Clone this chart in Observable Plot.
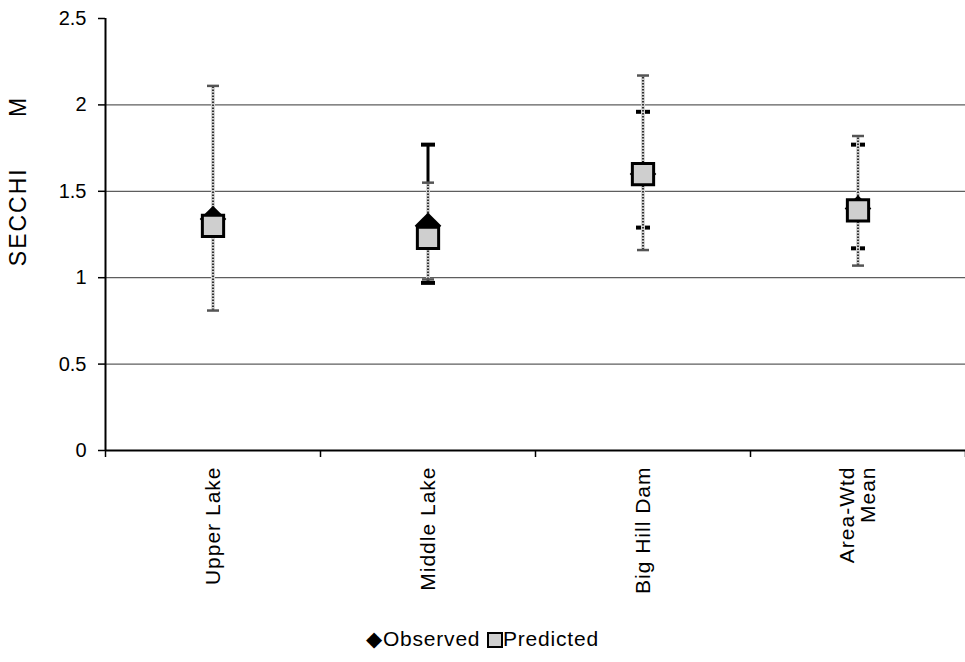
<!DOCTYPE html>
<html>
<head>
<meta charset="utf-8">
<script src="https://cdn.jsdelivr.net/npm/d3@7"></script>
<script src="https://cdn.jsdelivr.net/npm/@observablehq/plot@0.6"></script>
<style>
  html, body { margin: 0; padding: 0; background: #fff; }
  #chart { position: relative; width: 965px; height: 662px; font-family: "Liberation Sans", Arial, sans-serif; }
  #chart svg { display: block; }
  g[aria-label="x-axis tick label"] text { letter-spacing: 1px; }
  #ytitle { position: absolute; left: 18px; top: 181px; transform: translate(-50%, -50%) rotate(-90deg);
            font-size: 23px; letter-spacing: 2px; white-space: pre; color: #000; line-height: 1; }
  #legend { position: absolute; left: 0; width: 965px; top: 627px; text-align: center; font-size: 21px; color: #000; letter-spacing: 0.8px; }
  #legend svg { display: inline-block; vertical-align: -2px; }
</style>
</head>
<body>
<div id="chart"></div>
<script>
const categories = ["Upper Lake", "Middle Lake", "Big Hill Dam", "Area-Wtd\nMean"];
const observed = [1.34, 1.30, 1.60, 1.40];
const observedLow = [null, 0.97, 1.29, 1.17];
const observedHigh = [null, 1.77, 1.96, 1.77];
const predicted = [1.30, 1.23, 1.60, 1.39];
const predictedLow = [0.81, 0.99, 1.16, 1.07];
const predictedHigh = [2.11, 1.55, 2.17, 1.82];
const yTicks = [0, 0.5, 1, 1.5, 2, 2.5];
const gridValues = [0.5, 1, 1.5, 2];
const yTitle = "SECCHI      M";
const legendLabels = ["Observed", "Predicted"];

const rows = categories.map((c, i) => ({
  cat: c, pos: i + 0.5,
  obs: observed[i], obsLow: observedLow[i], obsHigh: observedHigh[i],
  pred: predicted[i], predLow: predictedLow[i], predHigh: predictedHigh[i]
}));
const boundaries = d3.range(categories.length + 1);
const centers = rows.map(d => d.pos);

const capSymbol = {
  draw(context, size) {
    const w = Math.sqrt(size / Math.PI);
    context.moveTo(-w, 0);
    context.lineTo(w, 0);
  }
};

const chart = Plot.plot({
  width: 965,
  height: 620,
  marginTop: 18,
  marginBottom: 170,
  marginLeft: 105,
  marginRight: 0,
  style: { fontFamily: "'Liberation Sans', Arial, sans-serif", background: "#fff", color: "#000" },
  x: { type: "linear", domain: [0, categories.length], axis: null },
  y: { domain: [0, 2.5], axis: null },
  marks: [
    Plot.ruleY(gridValues, { stroke: "#5e5e5e", strokeWidth: 1.2 }),
    Plot.axisY({ ticks: yTicks, tickFormat: d => String(d), tickSize: 7, tickPadding: 12, fontSize: 20, stroke: "#000", strokeWidth: 1.5, label: null }),
    Plot.axisX({ ticks: boundaries, tickFormat: () => "", tickSize: 7, stroke: "#000", strokeWidth: 1.5, label: null }),
    Plot.axisX({ ticks: centers, tickFormat: (d, i) => categories[i], tickSize: 0, tickPadding: 16, tickRotate: -90, fontSize: 21, label: null }),
    Plot.ruleY([0], { stroke: "#000", strokeWidth: 2 }),
    Plot.ruleX([0], { stroke: "#000", strokeWidth: 2 }),
    // observed error bars
    Plot.ruleX(rows, { x: "pos", y1: "obsLow", y2: "obsHigh", stroke: "#000", strokeWidth: 3 }),
    Plot.dot(rows, { x: "pos", y: "obsLow", symbol: capSymbol, r: 7, stroke: "#000", strokeWidth: 4 }),
    Plot.dot(rows, { x: "pos", y: "obsHigh", symbol: capSymbol, r: 7, stroke: "#000", strokeWidth: 4 }),
    // predicted error bars
    Plot.ruleX(rows, { x: "pos", y1: "predLow", y2: "predHigh", stroke: "#d4d4d4", strokeWidth: 4 }),
    Plot.ruleX(rows, { x: "pos", y1: "predLow", y2: "predHigh", stroke: "#333", strokeWidth: 2, strokeDasharray: "1.5,1.5" }),
    Plot.dot(rows, { x: "pos", y: "predLow", symbol: capSymbol, r: 6, stroke: "#555", strokeWidth: 2.5 }),
    Plot.dot(rows, { x: "pos", y: "predHigh", symbol: capSymbol, r: 6, stroke: "#555", strokeWidth: 2.5 }),
    // markers
    Plot.dot(rows, { x: "pos", y: "obs", symbol: "diamond2", r: 12, fill: "#000", stroke: "none" }),
    Plot.dot(rows, { x: "pos", y: "pred", symbol: "square", r: 12, fill: "#cfcfcf", stroke: "#000", strokeWidth: 3 })
  ]
});
const root = document.getElementById("chart");
root.appendChild(chart);

const title = document.createElement("div");
title.id = "ytitle";
title.textContent = yTitle;
root.appendChild(title);

const legend = document.createElement("div");
legend.id = "legend";
legend.innerHTML = '<span>\u25C6' + legendLabels[0] + '</span> <svg width="16" height="16"><rect x="1" y="1" width="14" height="14" fill="#cfcfcf" stroke="#000" stroke-width="2"/></svg><span>' + legendLabels[1] + '</span>';
root.appendChild(legend);
</script>
</body>
</html>
